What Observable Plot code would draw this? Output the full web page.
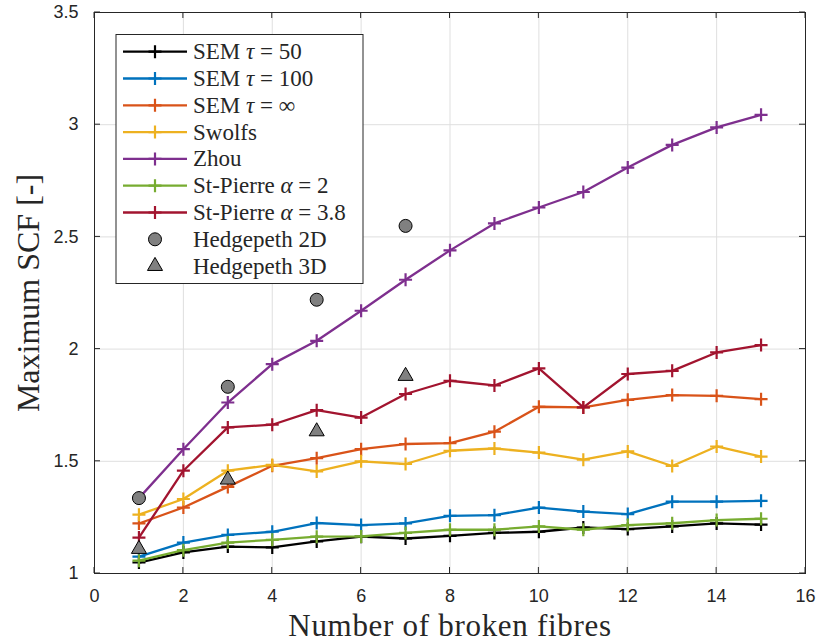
<!DOCTYPE html>
<html>
<head>
<meta charset="utf-8">
<script src="https://cdn.jsdelivr.net/npm/d3@7"></script>
<script src="https://cdn.jsdelivr.net/npm/@observablehq/plot@0.6"></script>
<style>
  body { margin: 0; background: #ffffff; }
  #chart svg { display: block; }
</style>
</head>
<body>
<div id="chart"></div>
<script>
// ---------- data ----------
const fibres = [1, 2, 3, 4, 5, 6, 7, 8, 9, 10, 11, 12, 13, 14, 15];

const sem50      = [1.049, 1.094, 1.120, 1.116, 1.143, 1.164, 1.156, 1.168, 1.181, 1.186, 1.205, 1.198, 1.210, 1.223, 1.218];
const sem100     = [1.075, 1.138, 1.172, 1.186, 1.225, 1.216, 1.223, 1.257, 1.260, 1.294, 1.276, 1.265, 1.320, 1.320, 1.324];
const semInf     = [1.223, 1.294, 1.386, 1.480, 1.514, 1.554, 1.577, 1.581, 1.632, 1.743, 1.740, 1.774, 1.795, 1.792, 1.777];
const swolfs     = [1.262, 1.332, 1.458, 1.484, 1.455, 1.500, 1.488, 1.547, 1.557, 1.539, 1.507, 1.544, 1.479, 1.566, 1.521];
const zhou       = [1.336, 1.554, 1.762, 1.933, 2.037, 2.171, 2.309, 2.440, 2.560, 2.631, 2.700, 2.809, 2.910, 2.988, 3.044];
const stPierre2  = [1.057, 1.104, 1.138, 1.150, 1.164, 1.165, 1.181, 1.195, 1.195, 1.210, 1.195, 1.216, 1.224, 1.238, 1.244];
const stPierre38 = [1.160, 1.458, 1.651, 1.663, 1.728, 1.695, 1.800, 1.859, 1.838, 1.914, 1.740, 1.889, 1.903, 1.985, 2.018];

const hedgeX  = [1, 3, 5, 7];
const hedge2D = [1.336, 1.832, 2.220, 2.549];
const hedge3D = [1.109, 1.418, 1.633, 1.880];

const seriesNames  = ["SEM τ = 50", "SEM τ = 100", "SEM τ = ∞", "Swolfs", "Zhou", "St-Pierre α = 2", "St-Pierre α = 3.8"];
const seriesValues = [sem50, sem100, semInf, swolfs, zhou, stPierre2, stPierre38];
const seriesColors = ["#000000", "#0072BD", "#D95319", "#EDB120", "#7E2F8E", "#77AC30", "#A2142F"];
const markerNames  = ["Hedgepeth 2D", "Hedgepeth 3D"];

const xTicks = [0, 2, 4, 6, 8, 10, 12, 14, 16];
const yTicks = [1, 1.5, 2, 2.5, 3, 3.5];
const xTickLabels = ["0", "2", "4", "6", "8", "10", "12", "14", "16"];
const yTickLabels = ["1", "1.5", "2", "2.5", "3", "3.5"];

const xLabel = "Number of broken fibres";
const yLabel = "Maximum SCF [-]";

// ---------- build tables ----------
const rows = [];
seriesNames.forEach((name, i) => {
  seriesValues[i].forEach((v, j) => rows.push({series: name, x: fibres[j], y: v}));
});
const hedge2DRows = hedgeX.map((x, i) => ({x, y: hedge2D[i]}));
const hedge3DRows = hedgeX.map((x, i) => ({x, y: hedge3D[i]}));

const plusSymbol = {
  draw(ctx, size) {
    const r = Math.sqrt(size / Math.PI);
    ctx.moveTo(-r, 0); ctx.lineTo(r, 0);
    ctx.moveTo(0, -r); ctx.lineTo(0, r);
  }
};

const serif = "'Liberation Serif', 'Times New Roman', serif";
const sans = "'Liberation Sans', Arial, Helvetica, sans-serif";

const seriesMarks = [];
seriesNames.forEach((name, i) => {
  const data = rows.filter(r => r.series === name);
  seriesMarks.push(Plot.line(data, {x: "x", y: "y", stroke: seriesColors[i], strokeWidth: 2.3}));
  seriesMarks.push(Plot.dot(data, {x: "x", y: "y", symbol: plusSymbol, r: 6.5, fill: "none", stroke: seriesColors[i], strokeWidth: 2.2}));
});

const chart = Plot.plot({
  width: 817,
  height: 644,
  marginLeft: 94,
  marginRight: 12,
  marginTop: 12,
  marginBottom: 71,
  style: {fontFamily: sans, fontSize: "18px", color: "#262626", background: "#ffffff"},
  x: {domain: [0, 16], label: null},
  y: {domain: [1, 3.5], label: null},
  marks: [
    Plot.gridX(xTicks, {stroke: "#dfdfdf", strokeOpacity: 1, strokeWidth: 1}),
    Plot.gridY(yTicks, {stroke: "#dfdfdf", strokeOpacity: 1, strokeWidth: 1}),
    Plot.axisX(xTicks, {tickSize: 0, tickPadding: 16, tickFormat: d => xTickLabels[xTicks.indexOf(d)], fontSize: 18, fill: "#262626", label: null}),
    Plot.axisY(yTicks, {tickSize: 0, tickPadding: 16, tickFormat: d => yTickLabels[yTicks.indexOf(d)], fontSize: 18, fill: "#262626", label: null}),
    ...seriesMarks,
    Plot.dot(hedge2DRows, {x: "x", y: "y", symbol: "circle", r: 6.5, fill: "#808080", stroke: "#000000", strokeWidth: 1}),
    Plot.dot(hedge3DRows, {x: "x", y: "y", symbol: "triangle", r: 5.6, fill: "#808080", stroke: "#000000", strokeWidth: 1}),
    Plot.frame({stroke: "#262626", strokeWidth: 1}),
    Plot.text([xLabel], {frameAnchor: "bottom", lineAnchor: "middle", textAnchor: "middle", dy: 53, fontFamily: serif, fontSize: 31, fill: "#262626", className: "xlabel"}),
    Plot.text([yLabel], {frameAnchor: "left", lineAnchor: "middle", textAnchor: "middle", rotate: -90, dx: -66, fontFamily: serif, fontSize: 32, fill: "#262626"})
  ]
});

document.getElementById("chart").appendChild(chart);

const svg = d3.select(chart);
svg.selectAll("text").filter(function() { return this.textContent === xLabel; })
  .attr("letter-spacing", "0.7px");

// ---------- inward ticks on all four sides (via the plot's scales) ----------
const sx = chart.scale("x"), sy = chart.scale("y");
const x0 = sx.apply(0), x1 = sx.apply(16), y0 = sy.apply(1), y1 = sy.apply(3.5);
const tl = 6;
const tg = svg.append("g").attr("stroke", "#262626").attr("stroke-width", 1);
xTicks.forEach(t => {
  const px = sx.apply(t);
  tg.append("line").attr("x1", px).attr("x2", px).attr("y1", y0).attr("y2", y0 - tl);
  tg.append("line").attr("x1", px).attr("x2", px).attr("y1", y1).attr("y2", y1 + tl);
});
yTicks.forEach(t => {
  const py = sy.apply(t);
  tg.append("line").attr("x1", x0).attr("x2", x0 + tl).attr("y1", py).attr("y2", py);
  tg.append("line").attr("x1", x1).attr("x2", x1 - tl).attr("y1", py).attr("y2", py);
});

// ---------- legend ----------
const lg = svg.append("g").attr("font-family", serif).attr("font-size", 23)
  .attr("fill", "#262626").attr("text-anchor", "start");
const lx = 116, ly = 34.5, lw = 247, lh = 249, rowH = 26.8, firstRow = 51.7;
lg.append("rect").attr("x", lx).attr("y", ly).attr("width", lw).attr("height", lh)
  .attr("fill", "#ffffff").attr("stroke", "#262626").attr("stroke-width", 1);

function addLabel(g, text, x, y) {
  const t = g.append("text").attr("x", x).attr("y", y).attr("dy", "0.33em").attr("text-anchor", "start");
  const parts = text.split(/([τα∞])/);
  parts.forEach(p => {
    if (!p) return;
    const ts = t.append("tspan").text(p);
    if (p === "τ" || p === "α") ts.attr("font-style", "italic");
  });
}

const sym = d3.symbol().type(plusSymbol).size(6.5 * 6.5 * Math.PI);
seriesNames.forEach((name, i) => {
  const cy = firstRow + i * rowH;
  lg.append("line").attr("x1", 123).attr("x2", 187).attr("y1", cy).attr("y2", cy)
    .attr("stroke", seriesColors[i]).attr("stroke-width", 2.3);
  lg.append("path").attr("d", sym()).attr("transform", `translate(155,${cy})`)
    .attr("fill", "none").attr("stroke", seriesColors[i]).attr("stroke-width", 2.2);
  addLabel(lg, name, 193, cy);
});
{
  const cy = firstRow + 7 * rowH;
  lg.append("circle").attr("cx", 155).attr("cy", cy).attr("r", 6.5)
    .attr("fill", "#808080").attr("stroke", "#000").attr("stroke-width", 1);
  addLabel(lg, markerNames[0], 193, cy);
}
{
  const cy = firstRow + 8 * rowH;
  lg.append("path").attr("d", d3.symbol().type(d3.symbolTriangle).size(5.6 * 5.6 * Math.PI)())
    .attr("transform", `translate(155,${cy})`)
    .attr("fill", "#808080").attr("stroke", "#000").attr("stroke-width", 1);
  addLabel(lg, markerNames[1], 193, cy);
}
</script>
</body>
</html>
